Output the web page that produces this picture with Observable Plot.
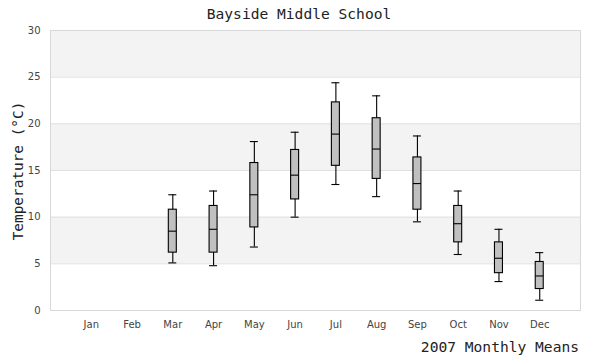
<!DOCTYPE html>
<html>
<head>
<meta charset="utf-8">
<script src="https://cdn.jsdelivr.net/npm/d3@7"></script>
<script src="https://cdn.jsdelivr.net/npm/@observablehq/plot@0.6"></script>
<style>
  html, body { margin: 0; padding: 0; background: white; }
  #chart { width: 600px; height: 360px; }
</style>
</head>
<body>
<div id="chart"></div>
<script>
const months = ["Jan","Feb","Mar","Apr","May","Jun","Jul","Aug","Sep","Oct","Nov","Dec"];
const whiskerLow  = [null, null, 5.1, 4.8, 6.8, 10.0, 13.5, 12.2, 9.5, 6.0, 3.1, 1.1];
const quart1      = [null, null, 6.2, 6.2, 8.9, 11.9, 15.5, 14.1, 10.8, 7.3, 4.0, 2.3];
const medians     = [null, null, 8.5, 8.7, 12.4, 14.5, 18.9, 17.3, 13.6, 9.3, 5.6, 3.7];
const quart3      = [null, null, 10.8, 11.2, 15.8, 17.2, 22.3, 20.6, 16.4, 11.2, 7.3, 5.2];
const whiskerHigh = [null, null, 12.4, 12.8, 18.1, 19.1, 24.4, 23.0, 18.7, 12.8, 8.7, 6.2];
const yTicks = [0, 5, 10, 15, 20, 25, 30];
const gridTicks = [5, 10, 15, 20, 25];
const bandLo = [5, 15, 25];
const bandHi = [10, 20, 30];

const titleText = "Bayside Middle School";
const yLabel = "Temperature (°C)";
const xLabel = "2007 Monthly Means";

const boxes = months.map((m, i) => ({
  month: m, low: whiskerLow[i], q1: quart1[i], median: medians[i], q3: quart3[i], high: whiskerHigh[i]
})).filter(d => d.median != null);
const bands = bandLo.map((lo, i) => ({lo, hi: bandHi[i]}));

const svg = Plot.plot({
  width: 600,
  height: 360,
  marginTop: 30,
  marginRight: 20,
  marginBottom: 50,
  marginLeft: 50,
  style: {fontFamily: "DejaVu Sans", fontSize: "10px", color: "#444", background: "white"},
  x: {type: "band", domain: months, paddingInner: 0.804, paddingOuter: 0.902, round: false, label: null},
  y: {domain: [0, 30], label: null},
  marks: [
    Plot.rectY(bands, {y1: "lo", y2: "hi", fill: "#f3f3f3"}),
    Plot.ruleY(gridTicks, {stroke: "#e0e0e0"}),
    Plot.frame({stroke: "#d8d8d8"}),
    Plot.axisY({ticks: yTicks, tickSize: 0, tickPadding: 10, label: null, fill: "#444"}),
    Plot.axisX({tickSize: 0, tickPadding: 10, label: null, fill: "#444"}),
    Plot.ruleX(boxes, {x: "month", y1: "low", y2: "high", stroke: "black", strokeWidth: 1.1}),
    Plot.tickY(boxes, {x: "month", y: "low", stroke: "black", strokeWidth: 1.1}),
    Plot.tickY(boxes, {x: "month", y: "high", stroke: "black", strokeWidth: 1.1}),
    Plot.barY(boxes, {x: "month", y1: "q1", y2: "q3", fill: "#c0c0c0", stroke: "black", strokeWidth: 1.1}),
    Plot.tickY(boxes, {x: "month", y: "median", stroke: "black", strokeWidth: 1.1})
  ]
});

const s = d3.select(svg);
const mono = "DejaVu Sans Mono";
s.append("text").text(titleText)
  .attr("x", 299).attr("y", 19).attr("text-anchor", "middle")
  .attr("font-family", mono).attr("font-size", "14.6px").attr("fill", "#222");
s.append("text").text(yLabel)
  .attr("transform", "translate(23,171) rotate(-90)").attr("text-anchor", "middle")
  .attr("font-family", mono).attr("font-size", "14.4px").attr("fill", "#222");
s.append("text").text(xLabel)
  .attr("x", 579).attr("y", 352).attr("text-anchor", "end")
  .attr("font-family", mono).attr("font-size", "14.6px").attr("fill", "#222");

document.getElementById("chart").appendChild(svg);
</script>
</body>
</html>
